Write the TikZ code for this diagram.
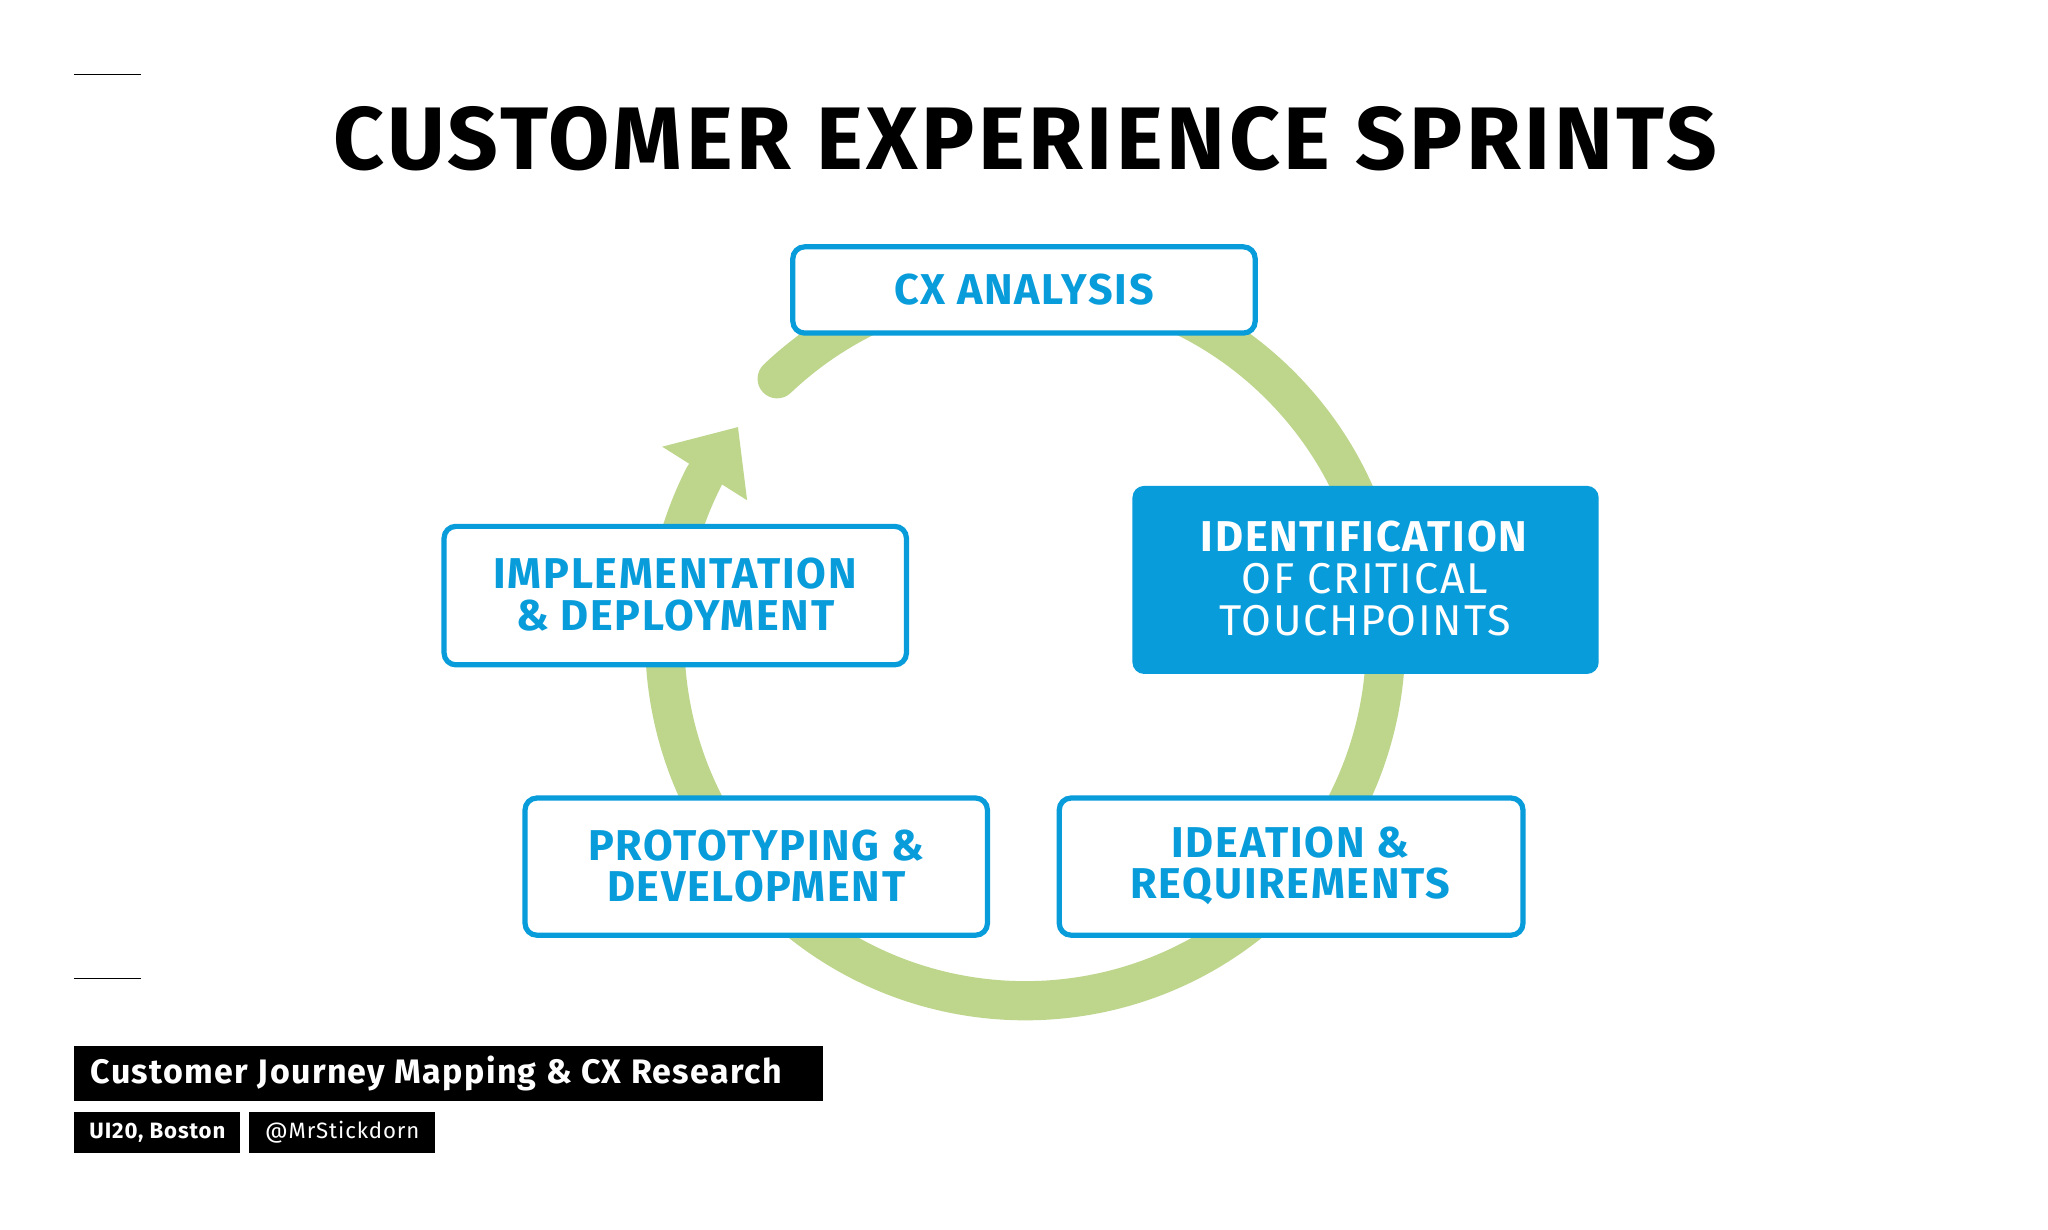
\documentclass[tikz,border=0pt]{standalone}
\usepackage{fontspec}
\setmainfont{Fira Sans}[LetterSpace=4]
\definecolor{cxblue}{RGB}{8,156,219}
\definecolor{cxgreen}{RGB}{190,214,140}
\begin{document}
\begin{tikzpicture}[x=1pt,y=-1pt,
  box/.style={draw=cxblue,line width=4pt,rounded corners=9pt,fill=white,text=cxblue,font=\fontsize{33}{36}\selectfont\bfseries,align=center,inner sep=0pt}]
\useasboundingbox (0,0) rectangle (1568,941);
\fill[white] (0,0) rectangle (1568,941);
\draw[line width=1pt] (57,57) -- (108,57);
\draw[line width=1pt] (57,749) -- (108,749);
\node[font=\fontsize{68}{72}\selectfont\bfseries] (title) at (785,106) {CUSTOMER EXPERIENCE SPRINTS};
% cycle
\coordinate (s) at (595,290);
\draw[cxgreen,line width=30pt,line cap=round] (s) arc[start angle=-133.5,end angle=207,radius=276];
\fill[cxgreen] (507,342) -- (565,327) -- (572,383) -- cycle;
% boxes
\draw[box] (607,189) rectangle (961,255);
\node[box,draw=none,fill=none] (cx) at (784,222) {CX ANALYSIS};
\draw[box] (340,403) rectangle (694,509);
\node[box,draw=none,fill=none] (impl) at (517,455) {IMPLEMENTATION\\[-4pt]\& DEPLOYMENT};
\fill[cxblue,rounded corners=9pt] (867,372) rectangle (1224,516);
\node[text=white,font=\fontsize{33}{36}\selectfont,align=center] (ident) at (1045,443) {\textbf{IDENTIFICATION}\\[-4pt]OF CRITICAL\\[-4pt]TOUCHPOINTS};
\draw[box] (402,611) rectangle (756,716);
\node[box,draw=none,fill=none] (proto) at (579,663) {PROTOTYPING \&\\[-4pt]DEVELOPMENT};
\draw[box] (811,611) rectangle (1166,716);
\node[box,draw=none,fill=none] (idea) at (988,663) {IDEATION \&\\[-4pt]REQUIREMENTS};
% footer
\fill[black] (57,801) rectangle (630,843);
\node[text=white,font=\fontsize{26}{28}\selectfont\bfseries,anchor=west] (f1) at (66,822) {Customer Journey Mapping \& CX Research};
\fill[black] (57,851) rectangle (184,883);
\node[text=white,font=\fontsize{17}{20}\selectfont\bfseries] (f2) at (120.5,867) {UI20, Boston};
\fill[black] (191,851) rectangle (333,883);
\node[text=white,font=\fontsize{17}{20}\selectfont] (f3) at (262,867) {@MrStickdorn};
\end{tikzpicture}
\end{document}
